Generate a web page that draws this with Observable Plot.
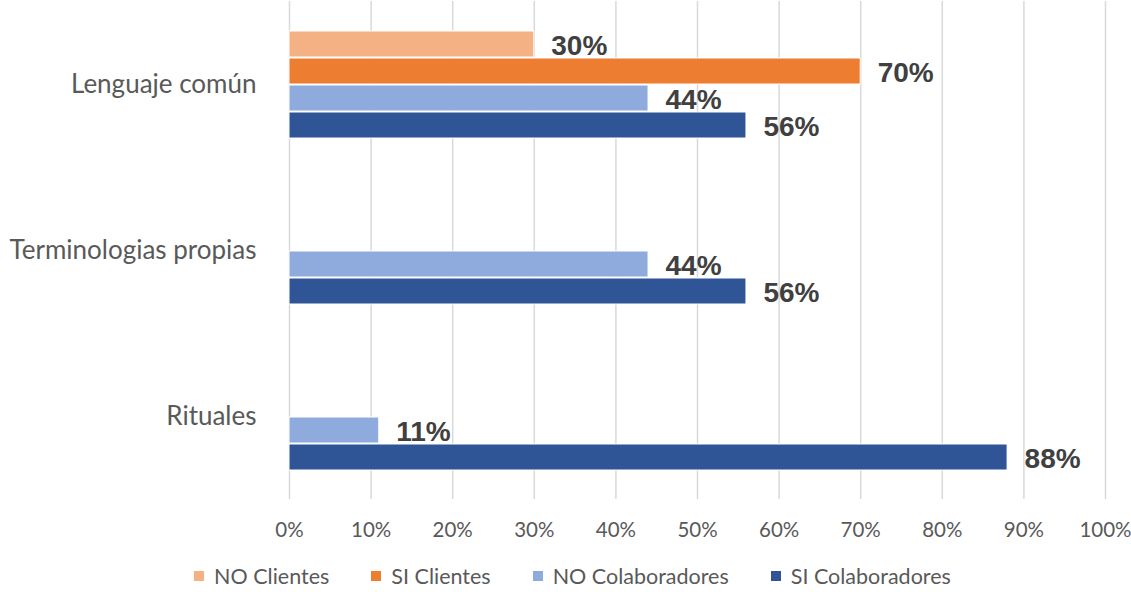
<!DOCTYPE html>
<html>
<head>
<meta charset="utf-8">
<script src="https://cdn.jsdelivr.net/npm/d3@7"></script>
<script src="https://cdn.jsdelivr.net/npm/@observablehq/plot@0.6"></script>
<style>
  html, body { margin: 0; padding: 0; background: #fff; }
  #chart { width: 1131px; }
  .legend { display: flex; justify-content: center; gap: 42px; margin-top: 11px; padding-left: 14px;
    font-family: Lato, "Open Sans", sans-serif; font-size: 21.5px; color: #595959; }
  .legend span.item { display: inline-flex; align-items: center; }
  .legend span.sw { width: 10px; height: 10px; display: inline-block; margin-right: 10px; }
</style>
</head>
<body>
<div id="chart"></div>
<script>
const categories = ["Lenguaje común", "Terminologias propias", "Rituales"];
const series = ["NO Clientes", "SI Clientes", "NO Colaboradores", "SI Colaboradores"];
const colors = ["#F4B183", "#ED7D31", "#8FAADC", "#2F5597"];
const noClientes = [0.30, null, null];
const siClientes = [0.70, null, null];
const noColaboradores = [0.44, 0.44, 0.11];
const siColaboradores = [0.56, 0.56, 0.88];
const xTicks = [0, 0.1, 0.2, 0.3, 0.4, 0.5, 0.6, 0.7, 0.8, 0.9, 1.0];

const seriesValues = [noClientes, siClientes, noColaboradores, siColaboradores];
const data = [];
series.forEach((s, si) => {
  categories.forEach((c, ci) => {
    const v = seriesValues[si][ci];
    if (v != null) data.push({category: c, series: s, value: v});
  });
});

const font = "Lato, 'Open Sans', sans-serif";
const pct = d => Math.round(d * 100) + "%";
const chart = Plot.plot({
  width: 1131,
  height: 552,
  marginLeft: 289,
  marginRight: 26,
  marginTop: 1,
  marginBottom: 53,
  style: {fontFamily: font, fontSize: "20px", color: "#595959", background: "#fff", overflow: "visible"},
  x: {domain: [0, 1], ticks: xTicks, tickFormat: pct, label: null},
  y: {domain: series, paddingInner: 0.05, paddingOuter: 1.05, axis: null},
  fy: {domain: categories, padding: 0, label: null},
  color: {domain: series, range: colors},
  marks: [
    Plot.gridX(xTicks, {stroke: "#d9d9d9", strokeOpacity: 1, strokeWidth: 1.5}),
    Plot.axisX(xTicks, {anchor: "bottom", tickSize: 0, tickPadding: 23, fontSize: 20.5, fill: "#595959",
      tickFormat: pct, label: null}),
    Plot.axisFy({anchor: "left", tickSize: 0, tickPadding: 33, fontSize: 26, fill: "#595959", label: null}),
    Plot.barX(data, {x: "value", y: "series", fy: "category", fill: "series", stroke: "#fff", strokeWidth: 1}),
    Plot.text(data, {x: "value", y: "series", fy: "category", text: d => pct(d.value),
      textAnchor: "start", dx: 17, dy: 2, fontSize: 28, fontWeight: "bold", fill: "#404040",
      fontFamily: "Arial, 'Liberation Sans', sans-serif"})
  ]
});
document.getElementById("chart").appendChild(chart);

const legend = document.createElement("div");
legend.className = "legend";
series.forEach((s, i) => {
  const item = document.createElement("span");
  item.className = "item";
  const sw = document.createElement("span");
  sw.className = "sw";
  sw.style.background = colors[i];
  item.appendChild(sw);
  item.appendChild(document.createTextNode(s));
  legend.appendChild(item);
});
document.getElementById("chart").appendChild(legend);
</script>
</body>
</html>
